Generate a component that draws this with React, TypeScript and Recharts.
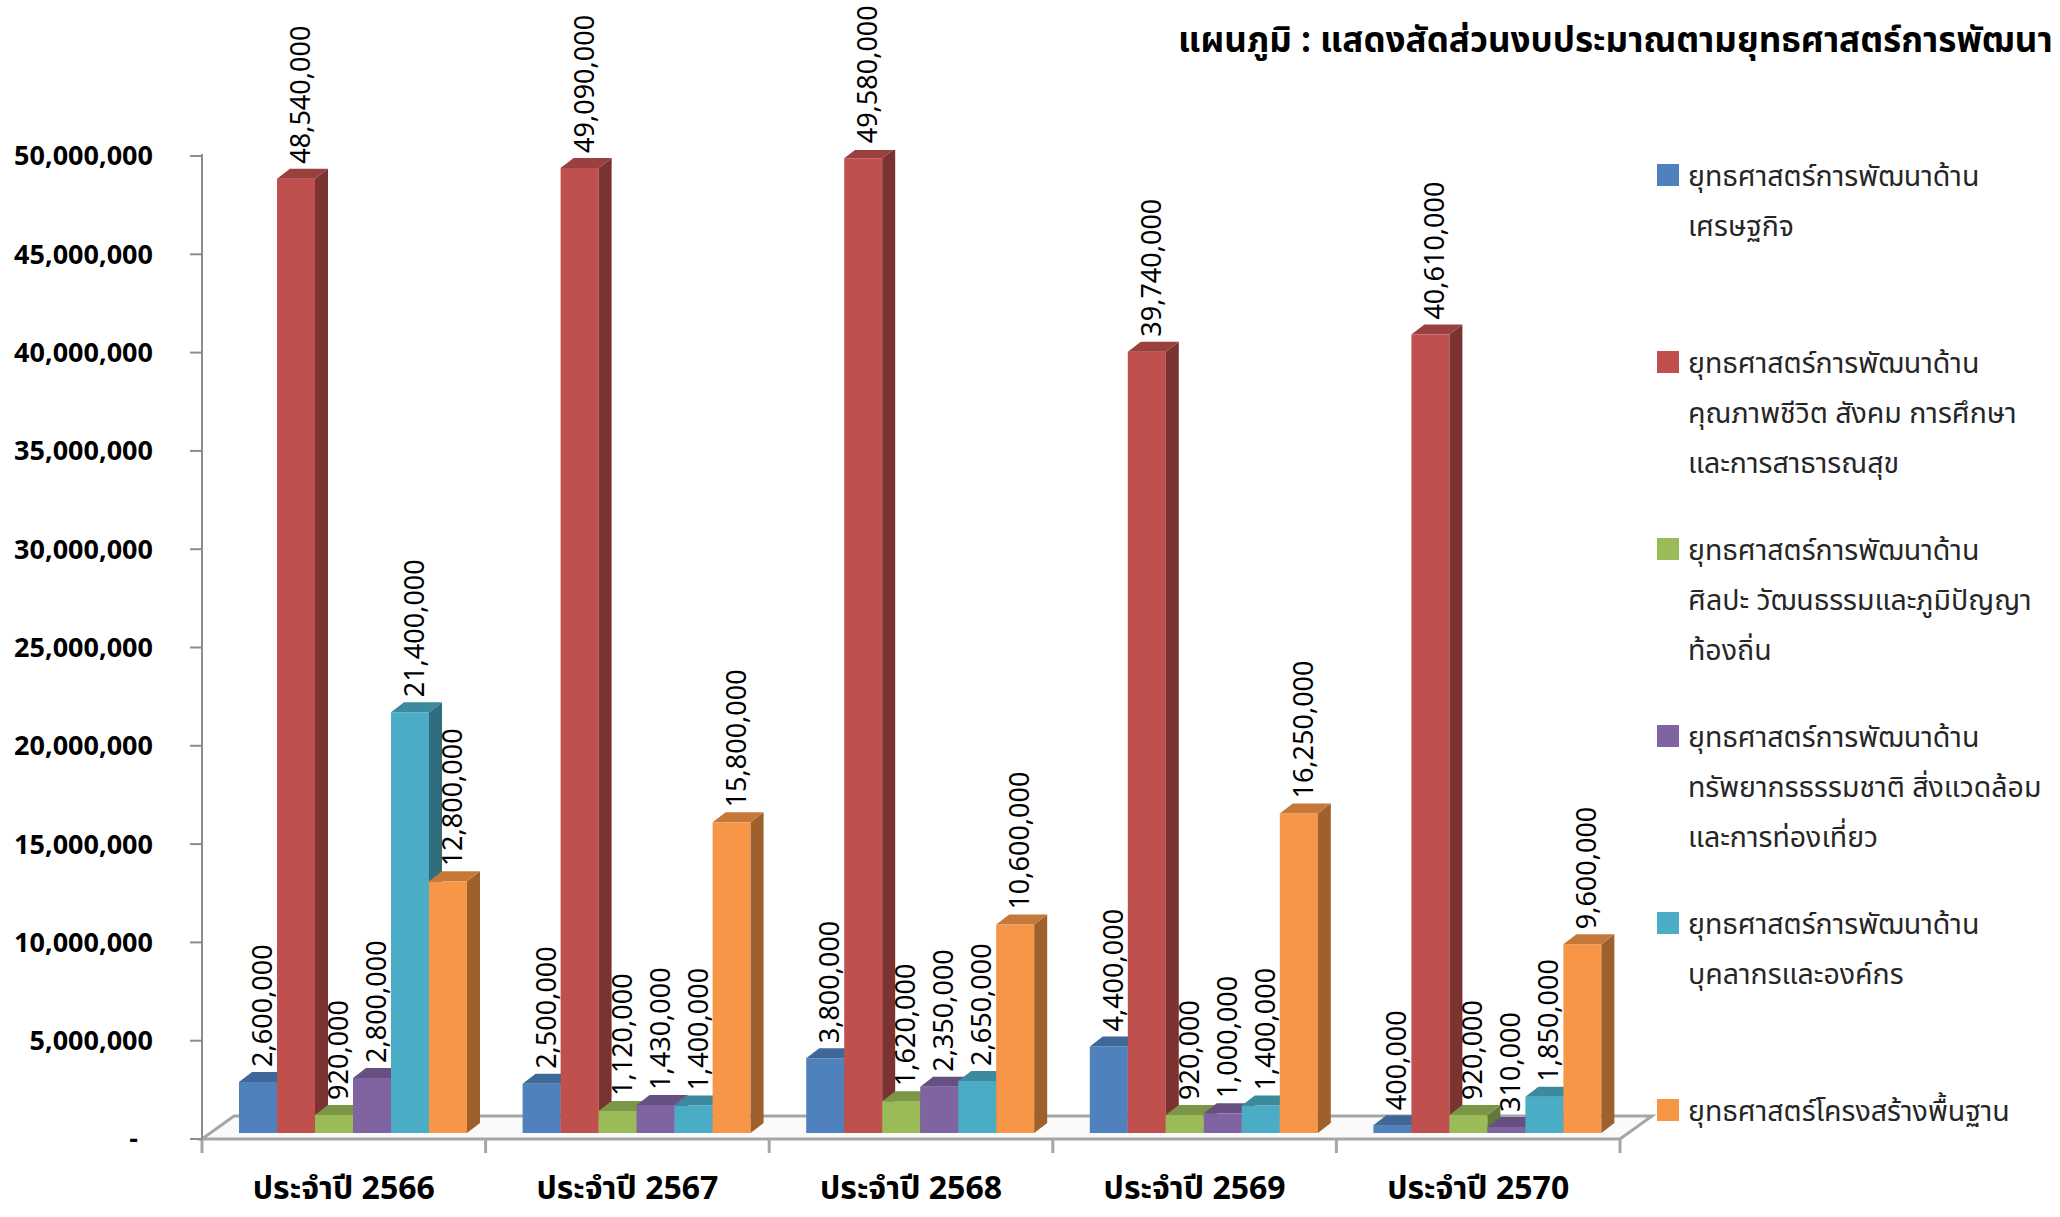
import React from 'react';
import { BarChart, Bar, XAxis, YAxis, Legend, LabelList, Customized } from 'recharts';

const CATEGORIES = ['ประจำปี 2566', 'ประจำปี 2567', 'ประจำปี 2568', 'ประจำปี 2569', 'ประจำปี 2570'];
const ECONOMY = [2600000, 2500000, 3800000, 4400000, 400000];
const QUALITY = [48540000, 49090000, 49580000, 39740000, 40610000];
const ARTS = [920000, 1120000, 1620000, 920000, 920000];
const NATURE = [2800000, 1430000, 2350000, 1000000, 310000];
const PEOPLE = [21400000, 1400000, 2650000, 1400000, 1850000];
const INFRA = [12800000, 15800000, 10600000, 16250000, 9600000];
const Y_TICKS = [0, 5000000, 10000000, 15000000, 20000000, 25000000, 30000000, 35000000, 40000000, 45000000, 50000000];

const TITLE = 'แผนภูมิ : แสดงสัดส่วนงบประมาณตามยุทธศาสตร์การพัฒนา';

const SERIES = [
  { key: 'economy', lines: ['ยุทธศาสตร์การพัฒนาด้าน', 'เศรษฐกิจ'], color: '#4F81BD' },
  { key: 'quality', lines: ['ยุทธศาสตร์การพัฒนาด้าน', 'คุณภาพชีวิต สังคม การศึกษา', 'และการสาธารณสุข'], color: '#C0504D' },
  { key: 'arts', lines: ['ยุทธศาสตร์การพัฒนาด้าน', 'ศิลปะ วัฒนธรรมและภูมิปัญญา', 'ท้องถิ่น'], color: '#9BBB59' },
  { key: 'nature', lines: ['ยุทธศาสตร์การพัฒนาด้าน', 'ทรัพยากรธรรมชาติ สิ่งแวดล้อม', 'และการท่องเที่ยว'], color: '#8064A2' },
  { key: 'people', lines: ['ยุทธศาสตร์การพัฒนาด้าน', 'บุคลากรและองค์กร'], color: '#4BACC6' },
  { key: 'infra', lines: ['ยุทธศาสตร์โครงสร้างพื้นฐาน'], color: '#F79646' },
];

const data = CATEGORIES.map((cat, i) => ({
  cat,
  economy: ECONOMY[i],
  quality: QUALITY[i],
  arts: ARTS[i],
  nature: NATURE[i],
  people: PEOPLE[i],
  infra: INFRA[i],
}));

const FONT = "Tahoma, 'Noto Sans Thai', 'Noto Sans', sans-serif";
const W = 2060;
const H = 1217;
// bar front plane
const PLOT = { left: 211, right: 1629, top: 150, bottom: 1133 };
// floor / axis geometry (front edge sits a little left/below the bar fronts)
const AXIS_X = 202;
const FLOOR_Y = 1139;
const FLOOR_RIGHT = 1620;
const DEPTH = { dx: 32, dy: 23 };
const BAR_DEPTH = { dx: 13, dy: 10 };

function shade(hex: string, f: number) {
  const n = parseInt(hex.slice(1), 16);
  const r = Math.round(((n >> 16) & 255) * f);
  const g = Math.round(((n >> 8) & 255) * f);
  const b = Math.round((n & 255) * f);
  return `rgb(${r},${g},${b})`;
}

function Box3D(props: any) {
  const { x, y, width, height, color } = props;
  if (width == null || height == null) return null;
  const { dx, dy } = BAR_DEPTH;
  const r = x + width;
  const b = y + height;
  return (
    <g>
      <rect x={x} y={y} width={width} height={height} fill={color} />
      <polygon points={`${r},${y} ${r + dx},${y - dy} ${r + dx},${b - dy} ${r},${b}`} fill={shade(color, 0.64)} />
      <polygon points={`${x},${y} ${x + dx},${y - dy} ${r + dx},${y - dy} ${r},${y}`} fill={shade(color, 0.8)} />
    </g>
  );
}

function ValueLabel(props: any) {
  const { x, y, width, value } = props;
  if (x == null || value == null) return null;
  const tx = x + width / 2 + 14;
  const ty = y - BAR_DEPTH.dy - 5;
  return (
    <text
      x={tx}
      y={ty}
      transform={`rotate(-90 ${tx} ${ty})`}
      textAnchor="start"
      fontSize={27}
      fontFamily={FONT}
      fill="#000"
    >
      {Number(value).toLocaleString('en-US')}
    </text>
  );
}

function YTick(props: any) {
  const { y, payload } = props;
  const yy = y + (FLOOR_Y - PLOT.bottom);
  const v = payload.value;
  return (
    <g>
      <line x1={AXIS_X - 12} x2={AXIS_X} y1={yy} y2={yy} stroke="#8c8c8c" strokeWidth={2} />
      <text
        x={v === 0 ? 138 : 153}
        y={yy}
        dy="0.35em"
        textAnchor="end"
        fontSize={27}
        fontWeight="bold"
        fontFamily={FONT}
        fill="#000"
      >
        {v === 0 ? '-' : v.toLocaleString('en-US')}
      </text>
    </g>
  );
}

function XTick(props: any) {
  const { x, payload } = props;
  return (
    <text
      x={x - (PLOT.left - AXIS_X)}
      y={1188}
      dy="0.35em"
      textAnchor="middle"
      fontSize={32}
      fontWeight="bold"
      fontFamily={FONT}
      fill="#000"
    >
      {payload.value}
    </text>
  );
}

function Floor() {
  const band = (FLOOR_RIGHT - AXIS_X) / CATEGORIES.length;
  const ticks = Array.from({ length: CATEGORIES.length + 1 }, (_, i) => AXIS_X + i * band);
  const { dx, dy } = DEPTH;
  return (
    <g>
      <polygon
        points={`${AXIS_X},${FLOOR_Y} ${FLOOR_RIGHT},${FLOOR_Y} ${FLOOR_RIGHT + dx},${FLOOR_Y - dy} ${AXIS_X + dx},${FLOOR_Y - dy}`}
        fill="#fafafa"
        stroke="#a6a6a6"
        strokeWidth={3}
      />
      <line x1={AXIS_X} x2={AXIS_X} y1={154} y2={FLOOR_Y + 14} stroke="#8c8c8c" strokeWidth={2} />
      {ticks.map((t) => (
        <line key={t} x1={t} x2={t} y1={FLOOR_Y} y2={FLOOR_Y + 14} stroke="#a6a6a6" strokeWidth={3} />
      ))}
      <text x={1178} y={40} dy="0.35em" fontSize={35} fontWeight="bold" fontFamily={FONT} fill="#000">
        {TITLE}
      </text>
    </g>
  );
}

function LegendBox() {
  return (
    <div style={{ position: 'relative', width: 400, height: 1000, fontFamily: FONT }}>
      {SERIES.map((s, i) => (
        <div key={s.key} style={{ position: 'absolute', left: 0, top: i * 187 }}>
          <div style={{ position: 'absolute', left: 0, top: 11, width: 22, height: 22, background: s.color }} />
          <div style={{ position: 'absolute', left: 31, top: 0, whiteSpace: 'nowrap', fontSize: 28.5, lineHeight: '50px', color: '#262626' }}>
            {s.lines.map((l, j) => (
              <div key={j}>{l}</div>
            ))}
          </div>
        </div>
      ))}
    </div>
  );
}

export default function App() {
  return (
    <div style={{ position: 'absolute', left: 0, top: 0, width: W, height: H, background: '#fff' }}>
      <BarChart
        width={W}
        height={H}
        data={data}
        margin={{ top: PLOT.top, right: W - PLOT.right, bottom: H - PLOT.bottom - 30, left: PLOT.left - 60 }}
        barCategoryGap={28}
        barGap={0}
      >
        <Customized component={<Floor />} />
        <XAxis dataKey="cat" axisLine={false} tickLine={false} tick={<XTick />} height={30} interval={0} />
        <YAxis
          domain={[0, 50000000]}
          ticks={Y_TICKS}
          allowDataOverflow
          axisLine={false}
          tickLine={false}
          tick={<YTick />}
          width={60}
          interval={0}
        />
        <Legend
          layout="horizontal"
          verticalAlign="middle"
          align="center"
          content={<LegendBox />}
          wrapperStyle={{ position: 'absolute', left: 1657, top: 153, width: 400 }}
        />
        {SERIES.map((s) => (
          <Bar
            key={s.key}
            dataKey={s.key}
            name={s.lines.join(' ')}
            fill={s.color}
            isAnimationActive={false}
            shape={(p: any) => <Box3D {...p} color={s.color} />}
          >
            <LabelList dataKey={s.key} content={<ValueLabel />} />
          </Bar>
        ))}
      </BarChart>
    </div>
  );
}
